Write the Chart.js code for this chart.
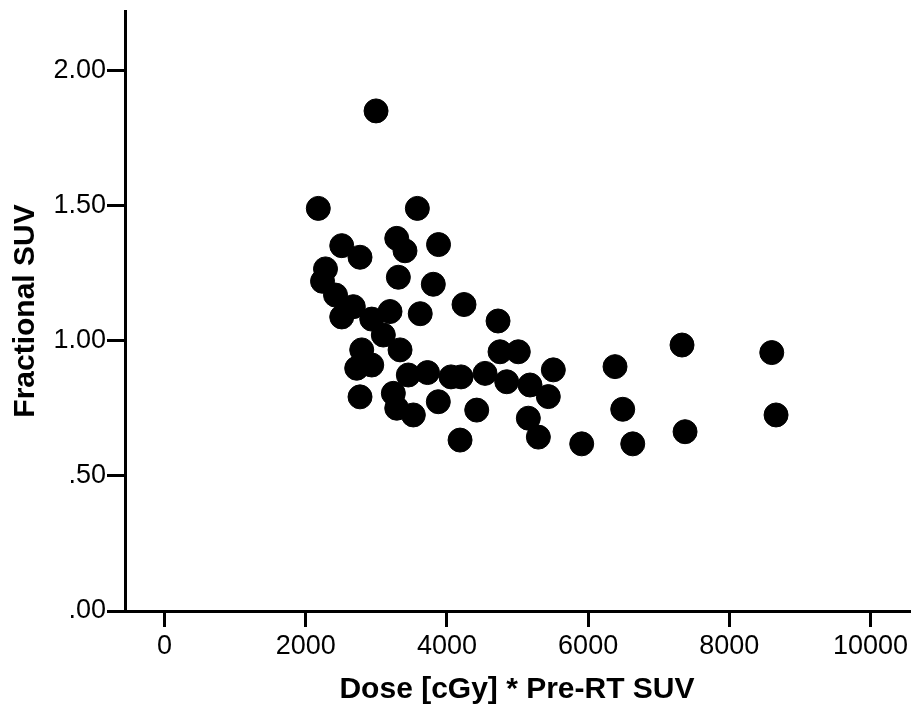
<!DOCTYPE html>
<html>
<head>
<meta charset="utf-8">
<script src="https://cdn.jsdelivr.net/npm/chart.js@4/dist/chart.umd.min.js"></script>
<style>
  body { margin: 0; background: #fff; }
  canvas { display: block; }
</style>
</head>
<body>
<canvas id="scatter" width="915" height="717"></canvas>
<script>
// values
const dose = [
  2996, 2178, 3581, 2510, 2769, 3289, 3406, 3881, 2280, 2238,
  3312, 3807, 2422, 2674, 2510, 2935, 3194, 3622, 4242, 4724,
  3099, 2793, 3336, 2722, 2935, 3453, 3725, 4058, 4200, 4540,
  4752, 5011, 5507, 4847, 5177, 5436, 3878, 4422, 5153, 5295,
  4186, 2769, 3241, 3289, 3524, 7330, 8601, 6381, 6490, 8662,
  5909, 6632, 7373
];
const fracSuv = [
  1.852, 1.491, 1.491, 1.353, 1.310, 1.380, 1.334, 1.357, 1.267, 1.221,
  1.236, 1.210, 1.170, 1.127, 1.089, 1.081, 1.109, 1.101, 1.135, 1.074,
  1.022, 0.967, 0.967, 0.899, 0.911, 0.874, 0.883, 0.867, 0.867, 0.880,
  0.960, 0.960, 0.893, 0.849, 0.837, 0.794, 0.775, 0.744, 0.714, 0.644,
  0.633, 0.793, 0.806, 0.751, 0.726, 0.985, 0.957, 0.905, 0.747, 0.726,
  0.619, 0.619, 0.664
];

const xTicks = [0, 2000, 4000, 6000, 8000, 10000];
const yTicks = [0, 0.5, 1.0, 1.5, 2.0];

const points = dose.map((d, i) => ({ x: d, y: fracSuv[i] }));

const fontFam = "'Liberation Sans', Arial, sans-serif";

const data = {
  datasets: [{
    label: 'Fractional SUV',
    data: points,
    backgroundColor: '#000',
    borderColor: '#000',
    borderWidth: 1,
    pointRadius: 12,
    pointHoverRadius: 12
  }]
};

const config = {
  type: 'scatter',
  data: data,
  options: {
    responsive: false,
    animation: false,
    layout: {
      autoPadding: false,
      padding: { top: 11, right: 6, left: 0, bottom: 0 }
    },
    plugins: {
      legend: { display: false },
      tooltip: { enabled: false }
    },
    scales: {
      x: {
        type: 'linear',
        min: -560,
        max: 10545,
        afterBuildTicks: (scale) => {
          scale.ticks = xTicks.map(v => ({ value: v }));
        },
        afterFit: (scale) => { scale.height = 106; },
        border: { color: '#000', width: 3 },
        grid: {
          drawOnChartArea: false,
          drawTicks: true,
          tickLength: 16,
          color: '#000',
          lineWidth: 3
        },
        ticks: {
          color: '#000',
          padding: 3,
          maxRotation: 0,
          font: { family: fontFam, size: 27 },
          callback: (v) => String(v)
        },
        title: {
          display: true,
          text: 'Dose [cGy] * Pre-RT SUV',
          color: '#000',
          font: { family: fontFam, size: 30, weight: 'bold' },
          padding: { top: 0, bottom: 9 }
        }
      },
      y: {
        type: 'linear',
        min: 0,
        max: 2.222,
        afterBuildTicks: (scale) => {
          scale.ticks = yTicks.map(v => ({ value: v }));
        },
        afterFit: (scale) => {
          scale.width = 125;
          // labels sit well inside the axis, no extra room needed
          scale.paddingTop = 0;
          scale.paddingBottom = 0;
        },
        border: { color: '#000', width: 3 },
        grid: {
          drawOnChartArea: false,
          drawTicks: true,
          tickLength: 18,
          color: '#000',
          lineWidth: 3
        },
        ticks: {
          color: '#000',
          padding: 1,
          font: { family: fontFam, size: 27 },
          callback: (v) => {
            let s = Number(v).toFixed(2);
            if (s.startsWith('0')) s = s.slice(1);
            return s;
          }
        },
        title: {
          display: true,
          text: 'Fractional SUV',
          color: '#000',
          font: { family: fontFam, size: 30, weight: 'bold' },
          padding: { top: 8, bottom: 0 }
        }
      }
    }
  }
};

const chart = new Chart(document.getElementById('scatter').getContext('2d'), config);
</script>
</body>
</html>
